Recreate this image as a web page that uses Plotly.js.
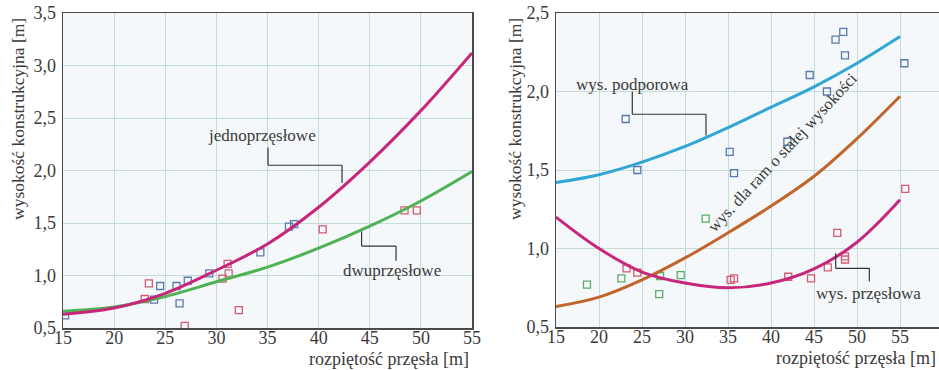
<!DOCTYPE html>
<html><head><meta charset="utf-8">
<script src="https://cdn.plot.ly/plotly-3.0.1.min.js"></script>
<style>
html,body{margin:0;padding:0;background:#fff}
#c{width:939px;height:370px}
#c svg text{font-family:"Liberation Serif","Times New Roman","DejaVu Serif",serif !important;}
</style>
</head><body><div id="c"></div>
<script>
// ---- data: left chart ----
const spanL = [15, 20, 25, 30, 35, 40, 45, 50, 55];
const jednoprzeslowe = [0.63, 0.69, 0.83, 1.05, 1.30, 1.65, 2.08, 2.57, 3.12];
const dwuprzeslowe   = [0.66, 0.70, 0.80, 0.94, 1.08, 1.26, 1.47, 1.71, 1.99];
const blueLx = [15.2, 24.5, 26.1, 27.2, 26.4, 23.9, 29.3, 34.3, 37.1, 37.6];
const blueLy = [0.62, 0.90, 0.90, 0.95, 0.735, 0.77, 1.02, 1.22, 1.465, 1.49];
const redLx  = [23.4, 23.0, 26.9, 30.6, 31.1, 31.2, 32.2, 40.4, 48.4, 49.6];
const redLy  = [0.925, 0.776, 0.52, 0.97, 1.11, 1.02, 0.67, 1.44, 1.62, 1.62];

// ---- data: right chart ----
const spanR = [15, 20, 25, 30, 35, 40, 45, 50, 55];
const podporowa = [1.42, 1.47, 1.55, 1.65, 1.77, 1.90, 2.03, 2.18, 2.35];
const stalaWys  = [0.63, 0.69, 0.80, 0.94, 1.10, 1.27, 1.46, 1.70, 1.97];
const przeslowa = [1.20, 1.00, 0.85, 0.78, 0.75, 0.78, 0.87, 1.04, 1.31];
const blueRx = [23.1, 24.45, 35.2, 35.7, 41.9, 44.5, 46.5, 47.5, 48.4, 48.6, 55.5];
const blueRy = [1.825, 1.50, 1.615, 1.48, 1.68, 2.105, 2.00, 2.33, 2.38, 2.23, 2.18];
const redRx  = [23.2, 24.45, 35.3, 35.7, 42.0, 44.65, 46.6, 47.7, 48.6, 48.6, 55.6];
const redRy  = [0.873, 0.846, 0.80, 0.81, 0.82, 0.81, 0.88, 1.10, 0.95, 0.93, 1.38];
const greenRx = [18.6, 22.6, 27.0, 27.1, 29.5, 32.4];
const greenRy = [0.77, 0.81, 0.71, 0.825, 0.83, 1.19];

const xTicks = [15, 20, 25, 30, 35, 40, 45, 50, 55];
const yTicksL = [0.5, 1.0, 1.5, 2.0, 2.5, 3.0, 3.5];
const yTicksR = [0.5, 1.0, 1.5, 2.0, 2.5];

const W = 939, H = 370;
const FONT = 'Liberation Serif';
const TXT = '#3a3a3a';
const cMag = '#c7277b', cGreen = '#4fb255', cBlue = '#2fa6d6', cBrown = '#c0652b';
const mBlue = '#5a78b0', mRed = '#d65a72', mGreen = '#5aae6a';

function line(x, y, color, xa, ya) {
  return {x, y, xaxis: xa, yaxis: ya, mode: 'lines', type: 'scatter',
          line: {color, width: 3, shape: 'spline', smoothing: 1}, hoverinfo: 'skip'};
}
function pts(x, y, color, xa, ya) {
  return {x, y, xaxis: xa, yaxis: ya, mode: 'markers', type: 'scatter',
          marker: {symbol: 'square-open', size: 7, color, line: {width: 1.3, color}}, hoverinfo: 'skip'};
}

const traces = [
  pts(blueLx, blueLy, mBlue, 'x', 'y'),
  pts(redLx, redLy, mRed, 'x', 'y'),
  line(spanL, dwuprzeslowe, cGreen, 'x', 'y'),
  line(spanL, jednoprzeslowe, cMag, 'x', 'y'),
  pts(blueRx, blueRy, mBlue, 'x2', 'y2'),
  pts(redRx, redRy, mRed, 'x2', 'y2'),
  pts(greenRx, greenRy, mGreen, 'x2', 'y2'),
  line(spanR, podporowa, cBlue, 'x2', 'y2'),
  line(spanR, stalaWys, cBrown, 'x2', 'y2'),
  line(spanR, przeslowa, cMag, 'x2', 'y2'),
];

const axBase = {
  showgrid: true, gridcolor: '#c6dcd6', gridwidth: 1,
  zeroline: false, showline: true, linecolor: '#4a4a4a', linewidth: 1.5,
  ticks: '', tickfont: {family: FONT, size: 18, color: TXT}, fixedrange: true
};

function px(x) { return x / W; }
function py(y) { return 1 - y / H; }

function ann(text, x, y, opts) {
  return Object.assign({text, x: px(x), y: py(y), xref: 'paper', yref: 'paper',
    showarrow: false, xanchor: 'center', yanchor: 'middle',
    font: {family: FONT, size: 17, color: TXT}}, opts || {});
}

function leader(xs, ys, xr, yr) {
  const s = [];
  for (let i = 0; i < xs.length - 1; i++) {
    s.push({type: 'line', xref: xr, yref: yr, x0: xs[i], y0: ys[i], x1: xs[i + 1], y1: ys[i + 1],
            line: {color: '#333', width: 1.2}});
  }
  return s;
}

const layout = {
  width: W, height: H, margin: {l: 0, r: 0, t: 0, b: 0},
  paper_bgcolor: '#ffffff', plot_bgcolor: '#f5f8fa',
  showlegend: false, separators: ', ',
  font: {family: FONT},
  xaxis: Object.assign({}, axBase, {domain: [63 / W, 472 / W], range: [15, 55], tickvals: xTicks, mirror: true, anchor: 'y', ticklabelstandoff: -7}),
  yaxis: Object.assign({}, axBase, {domain: [py(328), py(13)], range: [0.5, 3.5], tickvals: yTicksL, tickformat: '.1f', mirror: true, anchor: 'x', ticklabelstandoff: 2}),
  xaxis2: Object.assign({}, axBase, {domain: [556 / W, 1], range: [15, 59.53], tickvals: xTicks, mirror: true, anchor: 'y2', ticklabelstandoff: -7}),
  yaxis2: Object.assign({}, axBase, {domain: [py(327), py(13)], range: [0.5, 2.5], tickvals: yTicksR, tickformat: '.1f', mirror: false, anchor: 'x2', ticklabelstandoff: 2}),
  annotations: [
    ann('wysokość konstrukcyjna [m]', 18, 119, {textangle: -90, font: {family: FONT, size: 17.5, color: TXT}}),
    ann('wysokość konstrukcyjna [m]', 515, 119, {textangle: -90, font: {family: FONT, size: 17.5, color: TXT}}),
    ann('rozpiętość przęsła [m]', 471, 359, {xanchor: 'right', font: {family: FONT, size: 18, color: TXT}}),
    ann('rozpiętość przęsła [m]', 938, 358, {xanchor: 'right', font: {family: FONT, size: 18, color: TXT}}),
    ann('jednoprzęsłowe', 262, 135),
    ann('dwuprzęsłowe', 392, 270),
    ann('wys. podporowa', 632, 84),
    ann('wys. przęsłowa', 868, 293),
    ann('wys. dla ram o stałej wysokości', 782, 152, {textangle: -47, font: {family: FONT, size: 16.5, color: TXT}}),
  ],
  shapes: [].concat(
    leader([35.05, 35.05, 42.29, 42.29], [2.22, 2.05, 2.05, 1.88], 'x', 'y'),
    leader([44.2, 44.2, 47.57, 47.57], [1.42, 1.28, 1.28, 1.14], 'x', 'y'),
    leader([23.87, 23.87, 32.44, 32.44], [2.0, 1.855, 1.855, 1.72], 'x2', 'y2'),
    leader([47.52, 47.52, 51.43, 51.43], [0.97, 0.874, 0.874, 0.79], 'x2', 'y2')
  )
};

Plotly.newPlot('c', traces, layout, {staticPlot: true, displayModeBar: false});
</script>
</body></html>
